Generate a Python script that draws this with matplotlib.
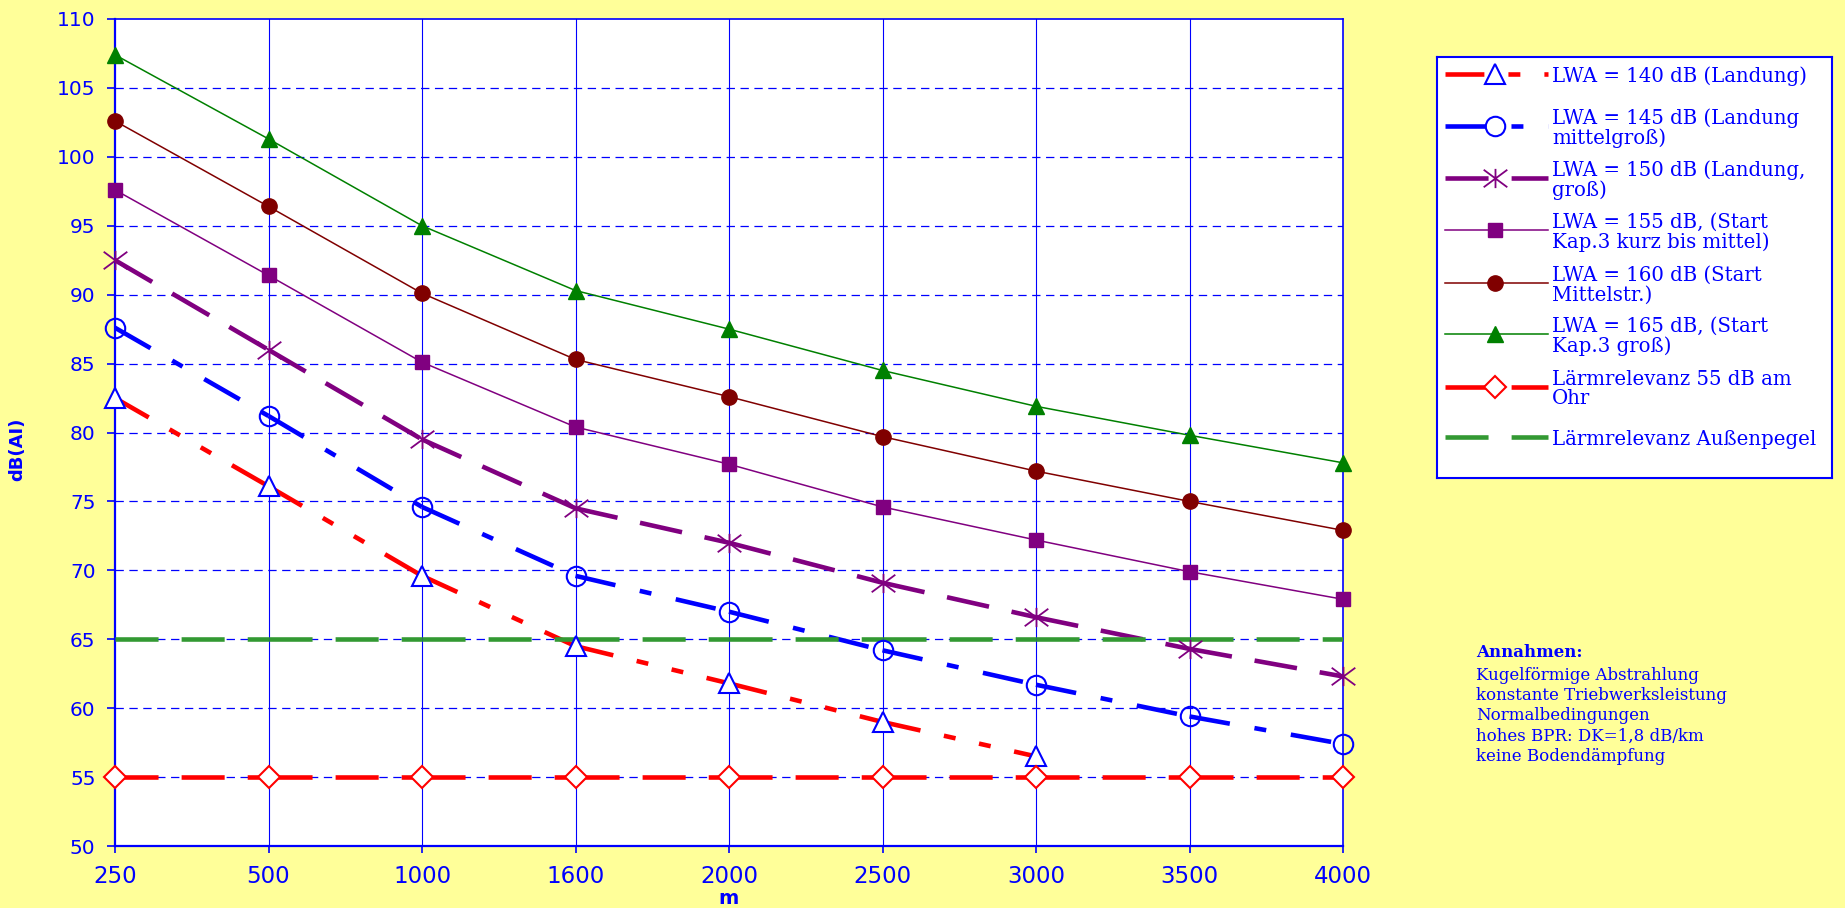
import matplotlib
matplotlib.use("Agg")
import matplotlib.pyplot as plt
from matplotlib.path import Path

plt.rcParams['lines.scale_dashes'] = False

# distance categories (m) and sound levels dB(A)
distances = ['250', '500', '1000', '1600', '2000', '2500', '3000', '3500', '4000']

lwa_140 = [82.5, 76.1, 69.6, 64.5, 61.8, 59.0, 56.5]
lwa_145 = [87.6, 81.2, 74.6, 69.6, 67.0, 64.2, 61.7, 59.4, 57.4]
lwa_150 = [92.5, 86.0, 79.5, 74.5, 72.0, 69.1, 66.6, 64.3, 62.3]
lwa_155 = [97.6, 91.4, 85.1, 80.4, 77.7, 74.6, 72.2, 69.9, 67.9]
lwa_160 = [102.6, 96.4, 90.1, 85.3, 82.6, 79.7, 77.2, 75.0, 72.9]
lwa_165 = [107.4, 101.3, 95.0, 90.3, 87.5, 84.5, 81.9, 79.8, 77.8]
limit_ear = [55, 55, 55, 55, 55, 55, 55, 55, 55]
limit_outside = [65, 65, 65, 65, 65, 65, 65, 65, 65]

labels = ['LWA = 140 dB (Landung)',
          'LWA = 145 dB (Landung\nmittelgroß)',
          'LWA = 150 dB (Landung,\ngroß)',
          'LWA = 155 dB, (Start\nKap.3 kurz bis mittel)',
          'LWA = 160 dB (Start\nMittelstr.)',
          'LWA = 165 dB, (Start\nKap.3 groß)',
          'Lärmrelevanz 55 dB am\nOhr',
          'Lärmrelevanz Außenpegel']

notes = ['Kugelförmige Abstrahlung',
         'konstante Triebwerksleistung',
         'Normalbedingungen',
         'hohes BPR: DK=1,8 dB/km',
         'keine Bodendämpfung']

BG = '#FFFF99'
BLUE = '#0000FF'

# excel-like star marker: x with a vertical bar
star = Path([(-1.35, -1), (1.35, 1), (-1.35, 1), (1.35, -1), (0, -1.1), (0, 1.1)],
            [Path.MOVETO, Path.LINETO, Path.MOVETO, Path.LINETO, Path.MOVETO, Path.LINETO])

dash_dot_dot = (0, (28, 17.3, 8.6, 17.3, 8.6, 17.3))
dash_dot = (0, (29.5, 18, 8.6, 18))
long_dash = (0, (31, 16.6))

series = [
    (lwa_140, dict(color='red', lw=3.3, ls=dash_dot_dot),
     dict(marker='^', ms=15, mfc='white', mec=BLUE, mew=1.5)),
    (lwa_145, dict(color=BLUE, lw=3.3, ls=dash_dot),
     dict(marker='o', ms=14, mfc='none', mec=BLUE, mew=1.5)),
    (lwa_150, dict(color='#800080', lw=3.3, ls=long_dash),
     dict(marker=star, ms=17, mfc='none', mec='#800080', mew=1.3)),
    (lwa_155, dict(color='#800080', lw=1.1, ls='-'),
     dict(marker='s', ms=10, mfc='#800080', mec='#800080', mew=1)),
    (lwa_160, dict(color='#800000', lw=1.1, ls='-'),
     dict(marker='o', ms=11, mfc='#800000', mec='#800000', mew=1)),
    (lwa_165, dict(color='#008000', lw=1.1, ls='-'),
     dict(marker='^', ms=12, mfc='#008000', mec='#008000', mew=1)),
    (limit_ear, dict(color='red', lw=3.3, ls=long_dash),
     dict(marker='D', ms=11, mfc='white', mec='red', mew=1.5)),
    (limit_outside, dict(color='#339933', lw=3.3, ls=long_dash), None),
]

fig = plt.figure(figsize=(18.45, 9.08), dpi=100, facecolor=BG)
ax = fig.add_axes([115 / 1845, 1 - 846 / 908, 1228 / 1845, 827 / 908])
ax.set_facecolor('white')

x = list(range(len(distances)))
for vals, line_kw, marker_kw in series:
    n = len(vals)
    # dash pattern starts over at every data point
    for i in range(n - 1):
        ax.plot(x[i:i + 2], vals[i:i + 2], zorder=3, **line_kw)
    if marker_kw:
        ax.plot(x[:n], vals, ls='none', zorder=4, clip_on=False, **marker_kw)

ax.set_xlim(0, 8)
ax.set_ylim(50, 110)
ax.set_xticks(x)
ax.set_xticklabels(distances)
ax.set_yticks(range(50, 111, 5))

for yv in range(55, 110, 5):
    ax.axhline(yv, color=BLUE, lw=0.9, ls=(0, (6, 4)), zorder=1)
for xv in x[1:-1]:
    ax.axvline(xv, color=BLUE, lw=0.8, zorder=1)

for side in ['left', 'bottom']:
    ax.spines[side].set_color(BLUE)
    ax.spines[side].set_linewidth(1.6)
for side in ['right', 'top']:
    ax.spines[side].set_color(BLUE)
    ax.spines[side].set_linewidth(1.2)

ax.tick_params(axis='y', colors=BLUE, labelsize=14.5, length=6, width=1.2, pad=8)
ax.tick_params(axis='x', colors=BLUE, labelsize=16.5, length=5, width=1.2, pad=9)

ax.set_ylabel('dB(AI)', color=BLUE, fontsize=13, fontweight='bold')
ax.yaxis.set_label_coords(-0.072, 0.48)
ax.set_xlabel('m', color=BLUE, fontsize=14, fontweight='bold', va='bottom')
ax.xaxis.set_label_coords(0.5, -0.075)

# legend box drawn by hand, pixel units, first text line next to the symbol
lax = fig.add_axes([1437 / 1845, 1 - 478 / 908, 395 / 1845, 421 / 908])
lax.set_xlim(0, 395)
lax.set_ylim(421, 0)
lax.set_xticks([])
lax.set_yticks([])
lax.set_facecolor('white')
for sp in lax.spines.values():
    sp.set_color(BLUE)
    sp.set_linewidth(1.5)

rows = [17.3, 69, 120.7, 173, 225.7, 277.3, 329.7, 380.3]
for (vals, line_kw, marker_kw), label, ry in zip(series, labels, rows):
    lax.plot([8, 111], [ry, ry], **line_kw)
    if marker_kw:
        lax.plot([58], [ry], ls='none', **marker_kw)
    lax.text(115, ry, label, color=BLUE, fontsize=14.2, family='DejaVu Serif',
             va='center_baseline', ha='left', linespacing=1.05)

fig.text(1476 / 1845, 1 - 650.7 / 908, 'Annahmen:', color=BLUE, fontsize=12,
         fontweight='bold', family='DejaVu Serif', va='center_baseline')
for i, line in enumerate(notes):
    fig.text(1476 / 1845, 1 - (673 + i * 20.3) / 908, line, color=BLUE, fontsize=12,
             family='DejaVu Serif', va='center_baseline')

fig.savefig('out.png', dpi=100, facecolor=BG)
